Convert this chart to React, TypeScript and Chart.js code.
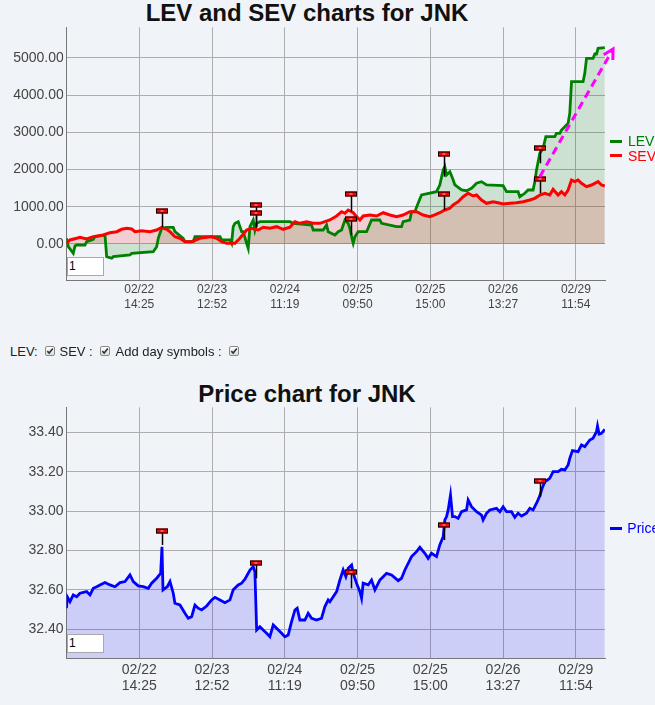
import React, { useEffect, useRef } from 'react';
import { Chart, registerables } from 'chart.js';

Chart.register(...registerables);

const FONT = '"Liberation Sans", Arial, Helvetica, sans-serif';
Chart.defaults.font.family = FONT;

// ---------- data ----------
const dayLabels = ['02/22', '02/23', '02/24', '02/25', '02/25', '02/26', '02/29'];
const timeLabels = ['14:25', '12:52', '11:19', '09:50', '15:00', '13:27', '11:54'];
const levSevTicks = [0, 1000, 2000, 3000, 4000, 5000];
const priceTicks = [32.4, 32.6, 32.8, 33.0, 33.2, 33.4];

// x is measured in "tick units": each labelled tick is 10 units apart
const levPoints: [number, number][] = [
  [0, 150], [0.25, -73], [0.93, -250], [1.17, -54], [1.4, -27], [2.54, -27], [2.77, 62], [3.68, 126],
  [3.91, 196], [5.29, 242], [5.52, -341], [6.21, -384], [6.43, -341], [8.72, -296], [8.96, -250],
  [11.92, -207], [12.39, -73], [12.61, 153], [13.08, 422], [13.76, 449], [14.67, 449], [14.9, 331],
  [16.04, 153], [16.28, 62], [17.42, 62], [17.65, 196], [21.09, 196], [21.32, 108], [22.46, 108],
  [22.69, 19], [22.91, 465], [23.15, 556], [23.6, 600], [23.83, 465], [24.07, 331], [24.29, 331],
  [24.75, 19], [24.97, -116], [25.21, 465], [25.66, 645], [25.89, 376], [26.13, 556], [26.58, 600],
  [28.64, 600], [30.7, 600], [31.15, 556], [33.68, 511], [33.9, 376], [35.27, 376], [35.74, 511],
  [35.96, 331], [36.88, 242], [37.34, 331], [37.8, 376], [38.26, 645], [38.71, 556], [38.94, 422],
  [39.18, 196], [39.4, 19], [39.63, 196], [40.08, 331], [41.24, 331], [41.92, 645], [43.06, 645],
  [43.3, 556], [45.36, 465], [46.04, 465], [46.26, 600], [47.18, 645], [47.42, 868], [47.87, 868],
  [48.32, 1094], [48.79, 1317], [50.85, 1406], [51.3, 1586], [51.76, 1989], [51.99, 2078],
  [52.23, 1855], [52.68, 1943], [53.05, 1766], [53.37, 1586], [54.29, 1452], [54.97, 1433],
  [55.66, 1497], [56.35, 1632], [57.03, 1675], [57.72, 1586], [60.0, 1567], [60.47, 1406],
  [62.06, 1406], [62.29, 1271], [62.98, 1363], [63.43, 1452], [64.12, 1452], [64.35, 1675],
  [64.59, 1989], [64.81, 2212], [65.04, 2438], [65.49, 2572], [65.87, 2884], [67.1, 2884],
  [67.33, 2976], [67.79, 2976], [68.02, 3064], [68.48, 3153], [68.93, 3244], [69.16, 3513],
  [69.4, 4363], [70.99, 4363], [71.22, 4588], [71.46, 4992], [72.36, 4992], [72.6, 5107],
  [72.83, 5107], [73.05, 5260], [73.97, 5277],
];

const sevPoints: [number, number][] = [
  [0, 19], [0.48, 108], [1.4, 153], [1.85, 180], [2.77, 134], [3.68, 196], [5.05, 242], [5.98, 304],
  [6.9, 331], [7.58, 395], [8.27, 422], [8.96, 403], [9.41, 331], [10.33, 358], [11.47, 331],
  [12.39, 376], [13.08, 449], [13.76, 395], [14.22, 331], [14.9, 196], [15.59, 153], [16.28, 62],
  [17.2, 62], [18.34, 153], [19.26, 180], [19.95, 196], [20.63, 153], [21.32, 62], [22.01, 19],
  [23.15, 19], [23.83, 153], [24.75, 376], [25.44, 422], [26.35, 376], [27.03, 449], [27.95, 422],
  [28.87, 465], [29.78, 395], [30.7, 449], [31.39, 600], [32.07, 556], [32.99, 600], [33.9, 556],
  [34.82, 556], [35.51, 600], [36.19, 645], [37.12, 753], [37.8, 868], [38.26, 825], [38.71, 914],
  [39.4, 841], [39.86, 734], [40.32, 645], [40.77, 753], [41.69, 780], [42.61, 753], [43.52, 841],
  [44.44, 780], [45.36, 734], [46.26, 780], [47.18, 868], [48.1, 868], [49.01, 780], [49.93, 734],
  [50.61, 780], [51.3, 841], [51.99, 914], [52.68, 960], [53.13, 1048], [53.82, 1137], [54.51, 1271],
  [55.19, 1363], [55.88, 1290], [56.35, 1317], [57.03, 1183], [57.72, 1094], [58.63, 1137],
  [59.31, 1110], [60.0, 1075], [60.92, 1094], [61.84, 1110], [62.75, 1137], [63.67, 1183],
  [64.35, 1228], [65.04, 1317], [65.73, 1363], [66.41, 1317], [66.87, 1470], [67.55, 1317],
  [68.02, 1406], [68.48, 1317], [68.93, 1452], [69.4, 1720], [69.85, 1675], [70.3, 1720],
  [70.77, 1632], [71.46, 1540], [72.14, 1586], [73.05, 1675], [73.52, 1586], [73.97, 1559],
];

const pricePoints: [number, number][] = [
  [0, 32.507], [0.11, 32.565], [0.48, 32.54], [0.93, 32.574], [1.4, 32.565], [1.85, 32.583],
  [2.77, 32.591], [3.23, 32.574], [3.68, 32.608], [4.15, 32.616], [4.6, 32.625], [5.29, 32.637],
  [5.98, 32.625], [6.66, 32.616], [7.35, 32.637], [8.04, 32.642], [8.72, 32.676], [9.18, 32.642],
  [9.86, 32.62], [10.55, 32.616], [11.24, 32.608], [11.7, 32.634], [12.39, 32.659], [12.94, 32.684],
  [13.12, 32.819], [13.26, 32.6], [13.53, 32.608], [13.85, 32.616], [14.22, 32.642], [14.67, 32.583],
  [14.9, 32.532], [15.59, 32.523], [16.28, 32.481], [16.73, 32.456], [17.2, 32.464], [17.65, 32.523],
  [18.1, 32.507], [18.57, 32.498], [19.26, 32.518], [19.95, 32.549], [20.4, 32.562], [21.09, 32.549],
  [21.77, 32.535], [22.46, 32.549], [22.91, 32.6], [23.6, 32.625], [24.07, 32.634], [24.52, 32.654],
  [25.21, 32.701], [25.66, 32.718], [25.89, 32.692], [26.13, 32.396], [26.58, 32.413],
  [27.03, 32.396], [27.5, 32.38], [27.95, 32.362], [28.41, 32.422], [28.87, 32.405], [29.56, 32.38],
  [30.01, 32.362], [30.47, 32.371], [30.93, 32.439], [31.39, 32.498], [31.7, 32.507], [32.07, 32.447],
  [32.76, 32.447], [33.21, 32.481], [33.68, 32.456], [34.37, 32.447], [35.05, 32.456], [35.51, 32.515],
  [35.96, 32.549], [36.19, 32.54], [36.65, 32.565], [37.12, 32.591], [37.57, 32.65], [38.02, 32.701],
  [38.39, 32.667], [38.71, 32.71], [39.18, 32.726], [39.4, 32.684], [39.86, 32.634], [40.32, 32.591],
  [40.55, 32.557], [40.77, 32.634], [41.46, 32.625], [41.92, 32.65], [42.38, 32.6], [43.06, 32.65],
  [43.52, 32.667], [43.98, 32.684], [44.67, 32.676], [45.58, 32.647], [46.04, 32.659], [46.5, 32.701],
  [47.42, 32.769], [48.1, 32.794], [48.56, 32.816], [49.24, 32.786], [49.7, 32.76], [50.16, 32.786],
  [50.85, 32.769], [51.3, 32.828], [51.76, 32.87], [51.99, 32.955], [52.23, 32.972], [52.45, 33.006],
  [52.77, 33.082], [53.05, 32.972], [53.37, 32.972], [53.82, 32.963], [54.29, 32.997], [54.97, 33.006],
  [55.19, 33.056], [55.66, 33.022], [56.35, 32.997], [57.03, 32.98], [57.25, 32.955], [57.72, 32.989],
  [58.17, 33.006], [59.09, 33.014], [59.55, 32.997], [60.0, 33.022], [60.47, 32.997], [61.15, 32.997],
  [61.61, 32.968], [62.06, 32.989], [62.53, 32.975], [63.21, 32.989], [63.67, 33.014], [64.12, 33.006],
  [64.59, 33.04], [65.04, 33.077], [65.36, 33.116], [65.73, 33.149], [66.41, 33.166], [66.87, 33.2],
  [67.55, 33.2], [68.02, 33.212], [68.48, 33.209], [68.93, 33.234], [69.16, 33.268], [69.53, 33.307],
  [70.3, 33.302], [70.77, 33.336], [71.22, 33.327], [71.91, 33.361], [72.36, 33.37], [72.83, 33.403],
  [72.97, 33.432], [73.19, 33.391], [73.52, 33.395], [73.97, 33.415],
];

// day symbols: [x, flag value, stem end value]
const levSevMarks: [number, number, number][] = [
  [13.16, 887, 449], [26.03, 1040, 449], [26.03, 825, 449], [39.04, 1336, 868], [39.04, 664, 242],
  [51.85, 2427, 1809], [51.85, 1336, 914], [65.04, 2572, 2169], [65.04, 1739, 1363],
];
const priceMarks: [number, number, number][] = [
  [13.12, 32.9, 32.828], [26.03, 32.735, 32.659], [39.08, 32.692, 32.608],
  [51.85, 32.931, 32.853], [65.04, 33.151, 33.073],
];
const trendFrom: [number, number] = [65.04, 1809];
const trendTo: [number, number] = [75.11, 5242];

// ---------- plugins ----------
function makeYLabelPlugin(rightX: number, clipX: number) {
  return {
    id: 'yLabelsClipped',
    afterDraw(chart: any) {
      const { ctx } = chart;
      const sy = chart.scales.y;
      ctx.save();
      ctx.beginPath();
      ctx.rect(0, 0, clipX, chart.height);
      ctx.clip();
      ctx.font = '14px ' + FONT;
      ctx.fillStyle = '#444';
      ctx.textAlign = 'right';
      ctx.textBaseline = 'middle';
      sy.ticks.forEach((t: any) => {
        ctx.fillText(Number(t.value).toFixed(2), rightX, sy.getPixelForValue(t.value));
      });
      ctx.restore();
    },
  };
}

function makeMarkPlugin(marks: [number, number, number][]) {
  return {
    id: 'dayMarks',
    afterDatasetsDraw(chart: any) {
      const { ctx } = chart;
      const sx = chart.scales.x;
      const sy = chart.scales.y;
      ctx.save();
      for (const [mx, fv, sv] of marks) {
        const px = Math.round(sx.getPixelForValue(mx)) + 0.5;
        const fy = Math.round(sy.getPixelForValue(fv));
        const ey = sy.getPixelForValue(sv);
        ctx.strokeStyle = '#000';
        ctx.lineWidth = 1.5;
        ctx.beginPath();
        ctx.moveTo(px, fy);
        ctx.lineTo(px, ey);
        ctx.stroke();
        ctx.fillStyle = '#ff0000';
        ctx.fillRect(px - 6.5, fy - 2.5, 12, 5);
        ctx.lineWidth = 1;
        ctx.strokeRect(px - 6, fy - 2, 11, 4);
        ctx.fillStyle = '#ffb0b0';
        ctx.fillRect(px - 2, fy - 0.5, 3, 1);
      }
      ctx.restore();
    },
  };
}

const arrowPlugin = {
  id: 'trendArrow',
  afterDatasetsDraw(chart: any) {
    const { ctx } = chart;
    const sx = chart.scales.x;
    const sy = chart.scales.y;
    const x0 = sx.getPixelForValue(trendFrom[0]);
    const y0 = sy.getPixelForValue(trendFrom[1]);
    const x1 = sx.getPixelForValue(trendTo[0]);
    const y1 = sy.getPixelForValue(trendTo[1]);
    const ang = Math.atan2(y1 - y0, x1 - x0);
    ctx.save();
    ctx.strokeStyle = '#ff00ff';
    ctx.lineWidth = 3;
    ctx.setLineDash([8, 5]);
    ctx.beginPath();
    ctx.moveTo(x0, y0);
    ctx.lineTo(x1 - 2 * Math.cos(ang), y1 - 2 * Math.sin(ang));
    ctx.stroke();
    ctx.setLineDash([]);
    const L = 11;
    ctx.beginPath();
    ctx.moveTo(x1 - L * Math.cos(ang - 0.5), y1 - L * Math.sin(ang - 0.5));
    ctx.lineTo(x1, y1);
    ctx.lineTo(x1 - L * Math.cos(ang + 0.5), y1 - L * Math.sin(ang + 0.5));
    ctx.stroke();
    ctx.restore();
  },
};

function xTickCallback(v: any) {
  const i = Math.round(Number(v) / 10) - 1;
  return i >= 0 && i < dayLabels.length ? [dayLabels[i], timeLabels[i]] : '';
}

const GRID = '#adadad';
const AXIS = '#777';

function Check({ left }: { left: number }) {
  return (
    <span
      style={{
        position: 'absolute', left, top: 346, width: 10, height: 10, boxSizing: 'border-box',
        border: '1px solid #8a8a8a', borderRadius: 2, background: 'linear-gradient(#ffffff, #dcdcdc)',
      }}
    >
      <svg width="8" height="8" viewBox="0 0 8 8" style={{ position: 'absolute', left: 0, top: 0 }}>
        <path d="M1.3 4.1 L3.2 6 L6.8 1.6" stroke="#333" strokeWidth="1.6" fill="none" />
      </svg>
    </span>
  );
}

export default function App() {
  const topRef = useRef<HTMLCanvasElement>(null);
  const botRef = useRef<HTMLCanvasElement>(null);

  useEffect(() => {
    const top = new Chart(topRef.current as HTMLCanvasElement, {
      type: 'line',
      data: {
        datasets: [
          {
            label: 'SEV',
            data: sevPoints.map(([x, y]) => ({ x, y })),
            borderColor: '#ff0000',
            backgroundColor: 'rgba(255,0,0,0.15)',
            fill: 'origin',
            borderWidth: 3,
            pointRadius: 0,
            tension: 0,
            order: 0,
          },
          {
            label: 'LEV',
            data: levPoints.map(([x, y]) => ({ x, y })),
            borderColor: '#008000',
            backgroundColor: 'rgba(0,128,0,0.15)',
            fill: 'origin',
            borderWidth: 2.8,
            pointRadius: 0,
            tension: 0,
            order: 1,
          },
        ],
      } as any,
      options: {
        animation: false,
        responsive: false,
        layout: { padding: { left: 66.5, right: 50, top: 2.3, bottom: 0 } },
        plugins: {
          legend: { display: false },
          tooltip: { enabled: false },
          filler: { drawTime: 'beforeDatasetsDraw' },
        } as any,
        scales: {
          x: {
            type: 'linear',
            min: 0,
            max: 74,
            grid: { color: GRID, drawTicks: false },
            border: { color: AXIS },
            ticks: {
              stepSize: 10,
              includeBounds: false,
              autoSkip: false,
              maxRotation: 0,
              padding: 2.5,
              color: '#444',
              font: { size: 12, lineHeight: 1.25 },
              callback: xTickCallback,
            },
            afterFit: (s: any) => { s.height = 40; },
          },
          y: {
            min: -968,
            max: 5825,
            grid: { color: GRID, drawTicks: false },
            border: { color: AXIS },
            ticks: { display: false },
            afterBuildTicks: (s: any) => { s.ticks = levSevTicks.map((value) => ({ value })); },
            afterFit: (s: any) => { s.width = 0; },
          },
        } as any,
      },
      plugins: [makeYLabelPlugin(63.8, 63.3), makeMarkPlugin(levSevMarks), arrowPlugin],
    });

    const bot = new Chart(botRef.current as HTMLCanvasElement, {
      type: 'line',
      data: {
        datasets: [
          {
            label: 'Price',
            data: pricePoints.map(([x, y]) => ({ x, y })),
            borderColor: '#0000ff',
            backgroundColor: 'rgba(0,0,255,0.15)',
            fill: 'start',
            borderWidth: 2.8,
            pointRadius: 0,
            tension: 0,
          },
        ],
      } as any,
      options: {
        animation: false,
        responsive: false,
        layout: { padding: { left: 66.5, right: 50, top: 7.3, bottom: 0 } },
        plugins: {
          legend: { display: false },
          tooltip: { enabled: false },
          filler: { drawTime: 'beforeDatasetsDraw' },
        } as any,
        scales: {
          x: {
            type: 'linear',
            min: 0,
            max: 74,
            grid: { color: GRID, drawTicks: false },
            border: { color: AXIS },
            ticks: {
              stepSize: 10,
              includeBounds: false,
              autoSkip: false,
              maxRotation: 0,
              padding: 4.75,
              color: '#444',
              font: { size: 14, lineHeight: 1.107 },
              callback: xTickCallback,
            },
            afterFit: (s: any) => { s.height = 47; },
          },
          y: {
            min: 32.254,
            max: 33.527,
            grid: { color: GRID, drawTicks: false },
            border: { color: AXIS },
            ticks: { display: false },
            afterBuildTicks: (s: any) => { s.ticks = priceTicks.map((value) => ({ value })); },
            afterFit: (s: any) => { s.width = 0; },
          },
        } as any,
      },
      plugins: [makeYLabelPlugin(63.5, 64), makeMarkPlugin(priceMarks)],
    });

    return () => {
      top.destroy();
      bot.destroy();
    };
  }, []);

  const titleStyle: React.CSSProperties = {
    position: 'absolute', left: 0, width: 614, textAlign: 'center',
    font: 'bold 24px/24px ' + FONT, color: '#111', whiteSpace: 'nowrap',
  };
  const rowText: React.CSSProperties = {
    position: 'absolute', top: 343.5, font: '13px/15px ' + FONT, color: '#222', whiteSpace: 'nowrap',
  };
  const legendText = (color: string, center: number, left: number): React.CSSProperties => ({
    position: 'absolute', left, top: center - 6.85, font: '14px/14px ' + FONT, color, whiteSpace: 'nowrap',
  });
  const legendLine = (color: string, center: number): React.CSSProperties => ({
    position: 'absolute', left: 610, top: center - 1.5, width: 12, height: 3, background: color,
  });
  const inputBox = (top: number): React.CSSProperties => ({
    position: 'absolute', left: 66.5, top, width: 37, height: 19, boxSizing: 'border-box',
    border: '1px solid #a9a9a9', background: '#fff', font: '12px/17px ' + FONT, color: '#000',
    paddingLeft: 1.5,
  });

  return (
    <div
      style={{
        position: 'fixed', left: 0, top: 0, width: 655, height: 705, overflow: 'hidden',
        background: '#f0f3f7', fontFamily: FONT,
      }}
    >
      <div style={{ ...titleStyle, top: 1 }}>LEV and SEV charts for JNK</div>
      <canvas
        ref={topRef}
        width={655}
        height={295}
        style={{ position: 'absolute', left: 0, top: 25, width: 655, height: 295 }}
      />
      <div style={inputBox(256.5)}>1</div>
      <div style={legendLine('#008000', 141.3)} />
      <div style={legendText('#008000', 141.3, 628)}>LEV</div>
      <div style={legendLine('#ff0000', 155.5)} />
      <div style={legendText('#ff0000', 155.5, 628)}>SEV</div>

      <div style={{ ...rowText, left: 10 }}>LEV:</div>
      <Check left={45} />
      <div style={{ ...rowText, left: 59.5 }}>SEV :</div>
      <Check left={100} />
      <div style={{ ...rowText, left: 115.5 }}>Add day symbols :</div>
      <Check left={229} />

      <div style={{ ...titleStyle, top: 382 }}>Price chart for JNK</div>
      <canvas
        ref={botRef}
        width={655}
        height={305}
        style={{ position: 'absolute', left: 0, top: 400, width: 655, height: 305 }}
      />
      <div style={inputBox(634.3)}>1</div>
      <div style={legendLine('#0000ff', 528.3)} />
      <div style={legendText('#0000ff', 528.3, 627.3)}>Price</div>
    </div>
  );
}
